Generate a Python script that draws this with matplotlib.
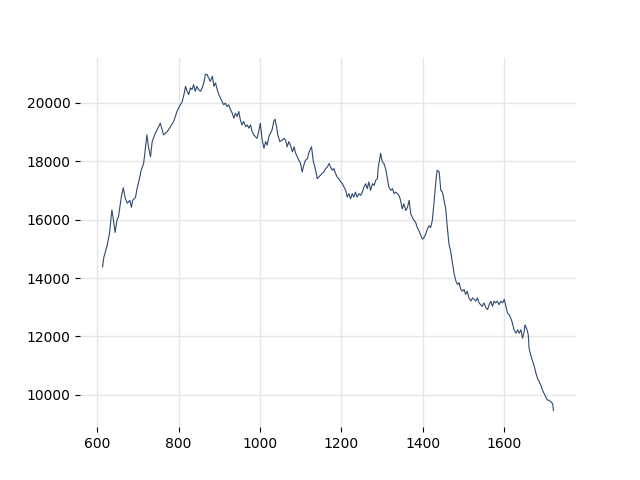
# Price series line chart
import matplotlib
matplotlib.use("Agg")
import matplotlib.pyplot as plt


day = [
    613, 616, 624, 630, 636, 640, 644, 649, 652, 659, 664, 669, 674, 680,
    684, 687, 694, 698, 703, 708, 714, 717, 722, 726, 731, 735, 743, 751,
    755, 763, 772, 780, 788, 796, 800, 809, 814, 817, 821, 825, 829, 833,
    837, 841, 845, 849, 854, 858, 862, 866, 870, 874, 878, 883, 887, 891,
    895, 899, 903, 907, 911, 915, 919, 923, 928, 932, 936, 940, 944, 948,
    952, 956, 960, 965, 969, 973, 977, 981, 985, 989, 993, 997, 1001, 1005,
    1010, 1014, 1018, 1022, 1026, 1030, 1034, 1037, 1041, 1044, 1049, 1055,
    1059, 1063, 1067, 1071, 1075, 1080, 1084, 1088, 1092, 1096, 1100, 1104,
    1108, 1112, 1117, 1120, 1125, 1127, 1131, 1137, 1141, 1145, 1149, 1153,
    1157, 1162, 1166, 1170, 1174, 1178, 1182, 1186, 1190, 1194, 1199, 1203,
    1207, 1211, 1215, 1219, 1223, 1227, 1231, 1235, 1239, 1244, 1248, 1252,
    1256, 1260, 1264, 1268, 1272, 1277, 1281, 1285, 1289, 1291, 1295, 1297,
    1301, 1305, 1309, 1313, 1317, 1322, 1326, 1330, 1334, 1338, 1342, 1346,
    1350, 1354, 1359, 1363, 1367, 1371, 1375, 1379, 1383, 1387, 1391, 1396,
    1400, 1404, 1408, 1412, 1416, 1420, 1424, 1428, 1433, 1436, 1441, 1445,
    1449, 1453, 1457, 1461, 1465, 1469, 1474, 1478, 1482, 1486, 1490, 1494,
    1498, 1502, 1506, 1510, 1514, 1519, 1523, 1527, 1531, 1535, 1539, 1543,
    1547, 1551, 1556, 1560, 1564, 1568, 1572, 1576, 1580, 1584, 1588, 1593,
    1597, 1601, 1605, 1609, 1613, 1617, 1621, 1625, 1630, 1634, 1638, 1642,
    1646, 1650, 1652, 1657, 1660, 1662, 1666, 1671, 1675, 1679, 1683, 1687,
    1691, 1695, 1699, 1703, 1707, 1711, 1716, 1720, 1722,
]

price = [
    14380, 14700, 15100, 15520, 16330, 15970, 15560, 16030, 16080, 16760,
    17090, 16720, 16560, 16660, 16420, 16660, 16760, 17070, 17350, 17690,
    17920, 18270, 18900, 18490, 18150, 18670, 18960, 19180, 19300, 18900,
    19010, 19180, 19360, 19700, 19820, 20040, 20330, 20560, 20390, 20280,
    20510, 20450, 20620, 20390, 20560, 20450, 20390, 20510, 20680, 20970,
    20970, 20850, 20730, 20910, 20560, 20680, 20450, 20280, 20160, 20040,
    19930, 19990, 19870, 19930, 19760, 19640, 19470, 19640, 19530, 19700,
    19410, 19240, 19360, 19180, 19240, 19130, 19240, 19010, 18900, 18840,
    18780, 19010, 19300, 18780, 18440, 18670, 18550, 18840, 18960, 19070,
    19360, 19440, 19180, 18900, 18670, 18720, 18780, 18720, 18490, 18670,
    18550, 18320, 18490, 18270, 18150, 18030, 17920, 17630, 17860, 18030,
    18090, 18270, 18440, 18490, 18030, 17690, 17400, 17460, 17520, 17580,
    17630, 17750, 17800, 17920, 17800, 17690, 17750, 17580, 17460, 17400,
    17290, 17230, 17110, 17000, 16770, 16890, 16710, 16890, 16770, 16940,
    16770, 16890, 16830, 16940, 17110, 17230, 17060, 17290, 17000, 17230,
    17170, 17350, 17400, 17800, 18090, 18270, 17980, 17920, 17750, 17460,
    17110, 17000, 17060, 16890, 16940, 16890, 16830, 16660, 16370, 16540,
    16310, 16420, 16660, 16200, 16080, 15970, 15910, 15730, 15620, 15450,
    15330, 15390, 15510, 15680, 15790, 15730, 15970, 16540, 17350, 17690,
    17630, 17000, 16940, 16660, 16370, 15730, 15160, 14930, 14470, 14130,
    13900, 13780, 13840, 13610, 13550, 13610, 13440, 13550, 13320, 13210,
    13320, 13270, 13210, 13320, 13150, 13090, 13030, 13150, 12980, 12920,
    13090, 13210, 13030, 13210, 13150, 13210, 13090, 13210, 13150, 13270,
    13030, 12800, 12750, 12630, 12460, 12230, 12110, 12230, 12110, 12230,
    11940, 12170, 12400, 12230, 12060, 11600, 11370, 11140, 10970, 10740,
    10560, 10450, 10330, 10160, 10050, 9930, 9820, 9820, 9760, 9700, 9470,
]


def main() -> None:
    fig, ax = plt.subplots(figsize=(6.4, 4.8), dpi=100)

    ax.plot(day, price, color="#30496e", linewidth=0.8)

    ax.grid(True, color="#e6e6e6", linewidth=1.0)
    ax.set_axisbelow(True)
    for spine in ax.spines.values():
        spine.set_visible(False)

    fig.savefig("out.png", dpi=100)
    plt.close(fig)


if __name__ == "__main__":
    main()
